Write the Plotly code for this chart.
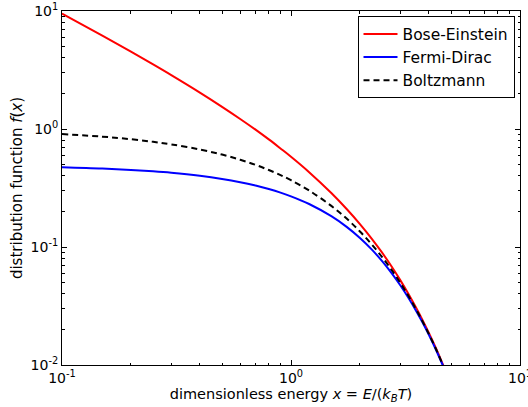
import plotly.graph_objects as go

# x values (dimensionless energy)
x_vals = [0.1, 0.15, 0.2, 0.25, 0.3, 0.4, 0.5, 0.6, 0.7, 0.8, 0.9, 1.0, 1.2, 1.5,
          1.75, 2.0, 2.25, 2.5, 2.75, 3.0, 3.25, 3.5, 3.75, 4.0, 4.3, 4.6, 4.7]

bose_einstein = [9.508, 6.180, 4.517, 3.521, 2.858, 2.033, 1.541, 1.216, 0.987, 0.816,
                 0.684, 0.582, 0.431, 0.287, 0.210, 0.1565, 0.118, 0.0895, 0.0683,
                 0.0524, 0.0403, 0.0311, 0.0241, 0.0187, 0.0138, 0.01015, 0.00918]

fermi_dirac = [0.475, 0.4626, 0.4502, 0.4378, 0.4256, 0.4013, 0.3775, 0.3543, 0.3318,
               0.3100, 0.2891, 0.2689, 0.2315, 0.1824, 0.1480, 0.1192, 0.0954, 0.0759,
               0.0601, 0.0474, 0.0373, 0.0293, 0.0230, 0.0180, 0.0134, 0.00995, 0.00901]

boltzmann = [0.905, 0.861, 0.819, 0.779, 0.741, 0.670, 0.607, 0.549, 0.497, 0.449,
             0.407, 0.368, 0.301, 0.223, 0.174, 0.1353, 0.1054, 0.0821, 0.0639,
             0.0498, 0.0388, 0.0302, 0.0235, 0.0183, 0.0136, 0.01005, 0.00910]

x_tick_vals = [0.1, 1, 10]
x_tick_text = ["10<sup>-1</sup>", "10<sup>0</sup>", "10<sup>1</sup>"]
x_minor_vals = [0.2, 0.3, 0.4, 0.5, 0.6, 0.7, 0.8, 0.9, 2, 3, 4, 5, 6, 7, 8, 9]
y_tick_vals = [0.01, 0.1, 1, 10]
y_tick_text = ["10<sup>-2</sup>", "10<sup>-1</sup>", "10<sup>0</sup>", "10<sup>1</sup>"]
y_minor_vals = [0.02, 0.03, 0.04, 0.05, 0.06, 0.07, 0.08, 0.09,
                0.2, 0.3, 0.4, 0.5, 0.6, 0.7, 0.8, 0.9, 2, 3, 4, 5, 6, 7, 8, 9]

fig = go.Figure()
fig.add_trace(go.Scatter(x=x_vals, y=bose_einstein, mode="lines", name="Bose-Einstein",
                         line=dict(color="#ff0000", width=2, shape="spline")))
fig.add_trace(go.Scatter(x=x_vals, y=fermi_dirac, mode="lines", name="Fermi-Dirac",
                         line=dict(color="#0000ff", width=2, shape="spline")))
fig.add_trace(go.Scatter(x=x_vals, y=boltzmann, mode="lines", name="Boltzmann",
                         line=dict(color="#000000", width=2, dash="6px,4px", shape="spline")))

axis_common = dict(
    type="log",
    automargin=False,
    ticklabeloverflow="allow",
    showgrid=False,
    zeroline=False,
    showline=True,
    linecolor="black",
    linewidth=1,
    mirror="allticks",
    ticks="inside",
    ticklen=5,
    tickwidth=1,
    tickcolor="black",
    tickfont=dict(family="DejaVu Sans", size=14, color="black"),
)

fig.update_xaxes(**axis_common, range=[-1, 1], tickvals=x_tick_vals, ticktext=x_tick_text,
                 minor=dict(tickmode="array", tickvals=x_minor_vals, ticks="inside", ticklen=2.5,
                            tickwidth=1, tickcolor="black", showgrid=False),
                 title=dict(text="dimensionless energy <i>x</i> = <i>E</i>/(<i>k</i><sub><i>B</i></sub><i>T</i>)",
                            font=dict(family="DejaVu Sans", size=14.5, color="black"), standoff=2))
fig.update_yaxes(**axis_common, range=[-2, 1], tickvals=y_tick_vals, ticktext=y_tick_text,
                 minor=dict(tickmode="array", tickvals=y_minor_vals, ticks="inside", ticklen=2.5,
                            tickwidth=1, tickcolor="black", showgrid=False),
                 title=dict(text="distribution function <i>f</i>(<i>x</i>)",
                            font=dict(family="DejaVu Sans", size=15, color="black"), standoff=4))

fig.update_layout(
    width=528, height=407,
    margin=dict(l=62, r=8, t=11, b=42),
    plot_bgcolor="white", paper_bgcolor="white",
    font=dict(family="DejaVu Sans", color="black"),
    showlegend=True,
    legend=dict(x=0.988, y=0.985, xanchor="right", yanchor="top",
                bordercolor="black", borderwidth=1, bgcolor="white",
                font=dict(family="DejaVu Sans", size=15.5, color="black"),
                itemwidth=34, tracegroupgap=4),
)

fig.write_html("out.html", config={"displayModeBar": False},
               post_script="document.body.style.margin='0';document.body.style.overflow='hidden';")
